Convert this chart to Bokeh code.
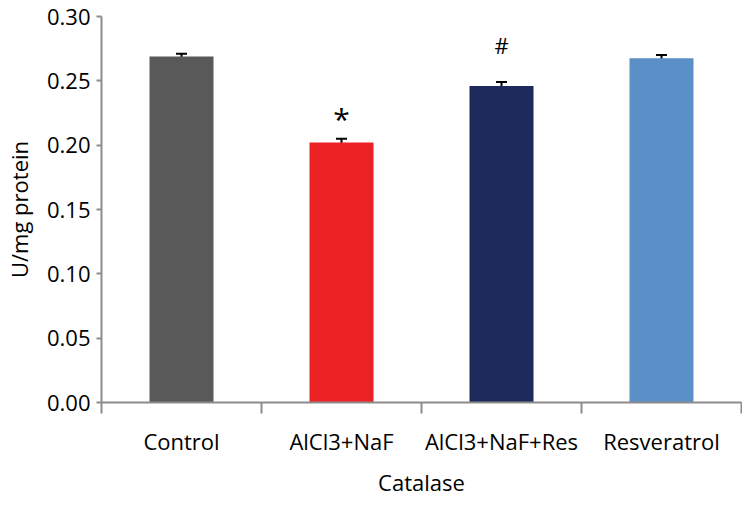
from bokeh.plotting import figure
from bokeh.models import (ColumnDataSource, Range1d, LinearAxis,
                          FixedTicker, NumeralTickFormatter, Whisker, TeeHead)
from bokeh.core.properties import value
from bokeh.embed import file_html
from bokeh.resources import INLINE

# ---- data ----
groups = ["Control", "AlCl3+NaF", "AlCl3+NaF+Res", "Resveratrol"]
means = [0.269, 0.202, 0.246, 0.2675]
errors = [0.002, 0.003, 0.003, 0.0025]
sig_marks = ["", "*", "#", ""]
colors = ["#595959", "#ED2224", "#1F2A5C", "#5A8FC8"]
y_ticks = [0.00, 0.05, 0.10, 0.15, 0.20, 0.25, 0.30]
y_label = "U/mg protein"
x_label = "Catalase"

FONT = "Open Sans"
AXIS_GRAY = "#8C8C8C"

n = len(groups)
centers = [i + 0.5 for i in range(n)]        # category slot centres on the index scale
boundaries = [float(i) for i in range(n + 1)]  # slot edges (tick marks)

src = ColumnDataSource(dict(
    x=centers, g=groups, m=means, c=colors,
    up=[m + e for m, e in zip(means, errors)],
    lo=[m - e for m, e in zip(means, errors)],
))

p = figure(width=742, height=499, x_range=Range1d(0, n), y_range=Range1d(y_ticks[0], y_ticks[-1]),
           output_backend="svg", toolbar_location=None, x_axis_location=None,
           min_border_left=101, min_border_right=1, min_border_top=16, min_border_bottom=97)
p.outline_line_color = None
p.xgrid.visible = False
p.ygrid.visible = False

p.vbar(x="x", top="m", width=0.4, bottom=0, fill_color="c", line_color=None, source=src)

w = Whisker(source=src, base="x", upper="up", lower="lo", dimension="height",
            line_color="black", line_width=2,
            upper_head=TeeHead(size=11, line_color="black", line_width=2),
            lower_head=TeeHead(size=11, line_color="black", line_width=2))
p.add_layout(w)

# significance marks (per-symbol baseline offset / size)
mark_style = {"*": (-20, "30px"), "#": (-37, "22px")}
for xc, m, e, s in zip(centers, means, errors, sig_marks):
    if not s:
        continue
    off, size = mark_style[s]
    p.text(x=[xc], y=[m + e], text=[s], text_align="center", text_baseline="alphabetic",
           y_offset=off, text_font=value(FONT), text_font_size=size, text_color="black")

# y axis
ya = p.yaxis[0]
ya.ticker = FixedTicker(ticks=y_ticks, minor_ticks=[])
ya.formatter = NumeralTickFormatter(format="0.00")
ya.axis_line_color = AXIS_GRAY
ya.axis_line_width = 2
ya.major_tick_line_color = AXIS_GRAY
ya.major_tick_line_width = 2
ya.major_tick_in = 0
ya.major_tick_out = 5
ya.minor_tick_line_color = None
ya.major_label_standoff = 6
ya.major_label_text_font = FONT
ya.major_label_text_font_size = "22px"
ya.major_label_text_color = "black"
ya.axis_label = y_label
ya.axis_label_text_font = FONT
ya.axis_label_text_font_size = "22px"
ya.axis_label_text_font_style = "normal"
ya.axis_label_text_color = "black"
ya.axis_label_standoff = 10

# x axis: labels at slot centres (major, no mark), tick marks at slot edges (minor)
xa = LinearAxis(ticker=FixedTicker(ticks=centers, minor_ticks=boundaries),
                major_label_overrides={c: g for c, g in zip(centers, groups)},
                axis_line_color=AXIS_GRAY, axis_line_width=2,
                major_tick_line_color=None, major_tick_in=0, major_tick_out=0,
                minor_tick_line_color=AXIS_GRAY, minor_tick_line_width=2,
                minor_tick_in=0, minor_tick_out=11,
                major_label_standoff=12,
                major_label_text_font=FONT, major_label_text_font_size="22px",
                major_label_text_color="black",
                axis_label=x_label, axis_label_text_font=FONT,
                axis_label_text_font_size="22px", axis_label_text_font_style="normal",
                axis_label_text_color="black", axis_label_standoff=8)
p.add_layout(xa, "below")

open("out.html", "w").write(file_html(p, INLINE))
